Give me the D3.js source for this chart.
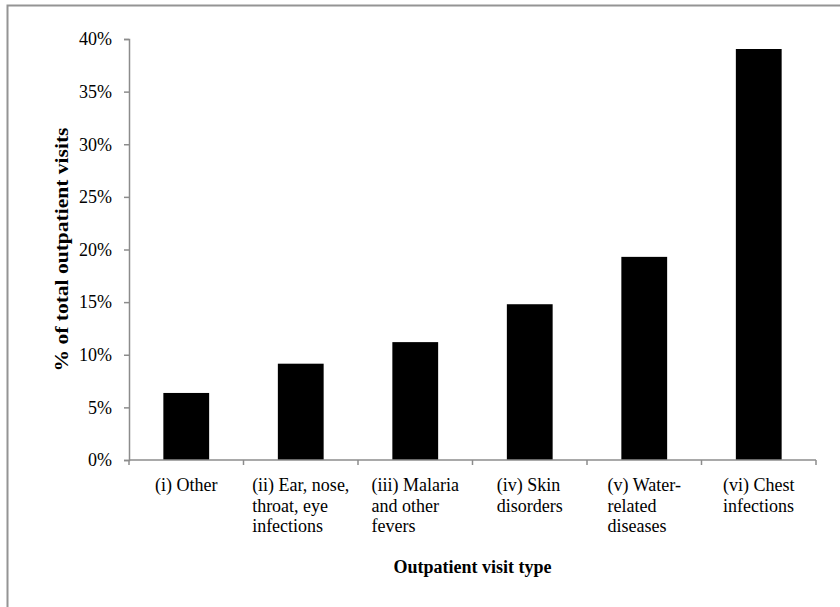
<!DOCTYPE html>
<html>
<head>
<meta charset="utf-8">
<script src="https://cdnjs.cloudflare.com/ajax/libs/d3/7.8.5/d3.min.js"></script>
<style>
  html, body { margin: 0; padding: 0; background: #fff; }
  svg { display: block; }
</style>
</head>
<body>
<svg id="chart" width="840" height="607"></svg>
<script>
const categories = [
  ["(i) Other"],
  ["(ii) Ear, nose,", "throat, eye", "infections"],
  ["(iii) Malaria", "and other", "fevers"],
  ["(iv) Skin", "disorders"],
  ["(v) Water-", "related", "diseases"],
  ["(vi) Chest", "infections"]
];
const values = [0.0637, 0.0915, 0.112, 0.148, 0.193, 0.3905];
const yTicks = [0, 0.05, 0.10, 0.15, 0.20, 0.25, 0.30, 0.35, 0.40];
const yTitle = "% of total outpatient visits";
const xTitle = "Outpatient visit type";

(function () {
const svg = d3.select("#chart");
const font = "'Liberation Serif', 'Times New Roman', serif";
const axisColor = "#8c8c8c";

// outer frame
svg.append("rect")
  .attr("x", 7.5).attr("y", 5.5)
  .attr("width", 900).attr("height", 700)
  .attr("fill", "none").attr("stroke", "#949494").attr("stroke-width", 2);

const pLeft = 129, pRight = 816, pTop = 39, pBottom = 460;
const keys = categories.map((c, i) => i);
const x = d3.scaleBand().domain(keys).range([pLeft, pRight]).paddingInner(0.6).paddingOuter(0.3);
const y = d3.scaleLinear().domain([0, 0.40]).range([pBottom, pTop]);

// bars
svg.append("g").selectAll("rect").data(values).join("rect")
  .attr("x", (d, i) => x(i))
  .attr("y", d => y(d))
  .attr("width", x.bandwidth())
  .attr("height", d => pBottom - y(d))
  .attr("fill", "#000");

// y axis
const yAxis = d3.axisLeft(y).tickValues(yTicks).tickSize(5).tickPadding(12)
  .tickFormat(d3.format(".0%"));
const gy = svg.append("g").attr("transform", `translate(${pLeft},0)`).call(yAxis);
gy.select(".domain").attr("stroke", axisColor).attr("stroke-width", 1.5);
gy.selectAll(".tick line").attr("stroke", axisColor).attr("stroke-width", 1.5);
gy.selectAll(".tick text").attr("font-family", font).attr("font-size", 18).attr("fill", "#000");

// x axis line with boundary ticks
const step = x.step();
const boundaries = d3.range(categories.length + 1).map(i => pLeft + i * step);
const gx = svg.append("g");
gx.append("line").attr("x1", pLeft).attr("x2", pRight).attr("y1", pBottom).attr("y2", pBottom)
  .attr("stroke", axisColor).attr("stroke-width", 1.5);
gx.selectAll("line.tk").data(boundaries).join("line").attr("class", "tk")
  .attr("x1", d => d).attr("x2", d => d).attr("y1", pBottom).attr("y2", pBottom + 5)
  .attr("stroke", axisColor).attr("stroke-width", 1.5);

// category labels: block centered, lines left-aligned
categories.forEach((lines, i) => {
  const cx = x(i) + x.bandwidth() / 2;
  const g = svg.append("g");
  const texts = lines.map((ln, j) => g.append("text")
    .attr("font-family", font).attr("font-size", 18).attr("fill", "#000")
    .attr("y", 491 + j * 20.5).text(ln));
  const maxW = d3.max(texts, t => t.node().getComputedTextLength());
  texts.forEach(t => t.attr("x", cx - maxW / 2));
});

// axis titles
svg.append("text")
  .attr("x", (pLeft + pRight) / 2).attr("y", 573)
  .attr("text-anchor", "middle")
  .attr("font-family", font).attr("font-size", 18).attr("font-weight", "bold")
  .text(xTitle);

svg.append("text")
  .attr("transform", `translate(68,${(pTop + pBottom) / 2}) rotate(-90)`)
  .attr("text-anchor", "middle")
  .attr("font-family", font).attr("font-size", 19).attr("font-weight", "bold")
  .attr("textLength", 244).attr("lengthAdjust", "spacingAndGlyphs")
  .text(yTitle);
})();
</script>
</body>
</html>
